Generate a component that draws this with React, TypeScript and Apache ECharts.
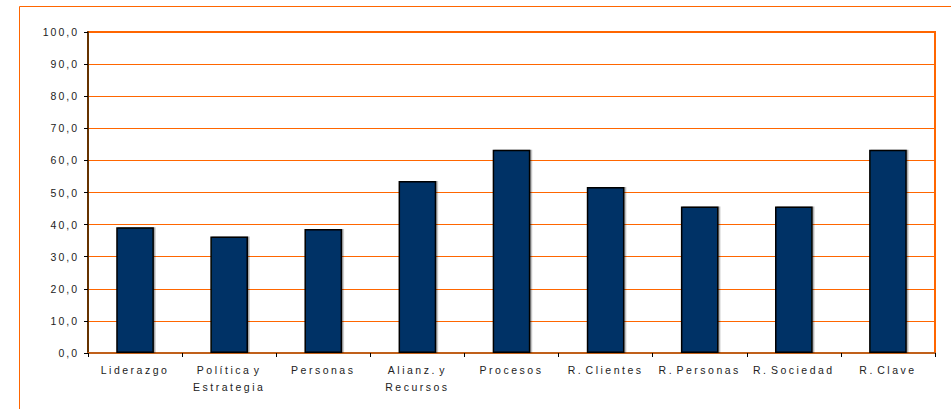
import React, { useEffect, useRef } from "react";
import * as echarts from "echarts";

const categories = [
  "Liderazgo",
  "Política y\nEstrategia",
  "Personas",
  "Alianz. y\nRecursos",
  "Procesos",
  "R. Clientes",
  "R. Personas",
  "R. Sociedad",
  "R. Clave",
];
const values = [39.2, 36.3, 38.6, 53.6, 63.3, 51.7, 45.6, 45.6, 63.3];
const yMin = 0;
const yMax = 100;
const yInterval = 10;

export default function App() {
  const ref = useRef<HTMLDivElement>(null);
  useEffect(() => {
    if (!ref.current) return;
    const chart = echarts.init(ref.current, null, { renderer: "svg" });
    const orange = "#FF6600";
    chart.setOption({
      animation: false,
      backgroundColor: "#ffffff",
      textStyle: { fontFamily: "Liberation Sans, Arial, sans-serif" },
      graphic: [
        { type: "line", shape: { x1: 19.5, y1: 6.5, x2: 951, y2: 6.5 }, style: { stroke: orange, lineWidth: 1 } },
        { type: "line", shape: { x1: 19.5, y1: 6.5, x2: 19.5, y2: 409 }, style: { stroke: orange, lineWidth: 1 } },
      ],
      grid: {
        left: 88,
        top: 32,
        right: 16,
        bottom: 56,
        show: true,
        borderColor: orange,
        borderWidth: 2,
        backgroundColor: "#ffffff",
      },
      xAxis: {
        type: "category",
        data: categories,
        axisLine: { show: true, lineStyle: { color: "#C0601A", width: 2 } },
        axisTick: { show: true, length: 4, lineStyle: { color: "#000000" } },
        axisLabel: {
          color: "#222222",
          fontSize: 10.5,
          margin: 8,
          lineHeight: 17,
          interval: 0,
        },
      },
      yAxis: {
        type: "value",
        min: yMin,
        max: yMax,
        interval: yInterval,
        axisLine: { show: true, lineStyle: { color: "#663300", width: 2 } },
        axisTick: { show: true, length: 4, lineStyle: { color: "#000000" } },
        axisLabel: {
          color: "#222222",
          fontSize: 10.5,
          margin: 9,
          formatter: (v: number) => v.toFixed(1).replace(".", ","),
        },
        splitLine: { show: true, lineStyle: { color: orange, width: 1 } },
      },
      series: [
        {
          type: "bar",
          data: values,
          barWidth: "40%",
          itemStyle: {
            color: "#003366",
            borderColor: "#000000",
            borderWidth: 1.5,
            shadowColor: "rgba(0,0,0,0.35)",
            shadowBlur: 1,
            shadowOffsetX: 1.5,
            shadowOffsetY: 0,
          },
        },
      ],
    });
    return () => chart.dispose();
  }, []);
  return (
    <>
      <style>{`
        .chart-box svg text { letter-spacing: 2.5px; word-spacing: -3px; }
        .chart-box svg text[text-anchor="end"] { letter-spacing: 2px; word-spacing: 0; }
      `}</style>
      <div
        ref={ref}
        className="chart-box"
        style={{ position: "fixed", left: 0, top: 0, width: 951, height: 409 }}
      />
    </>
  );
}
